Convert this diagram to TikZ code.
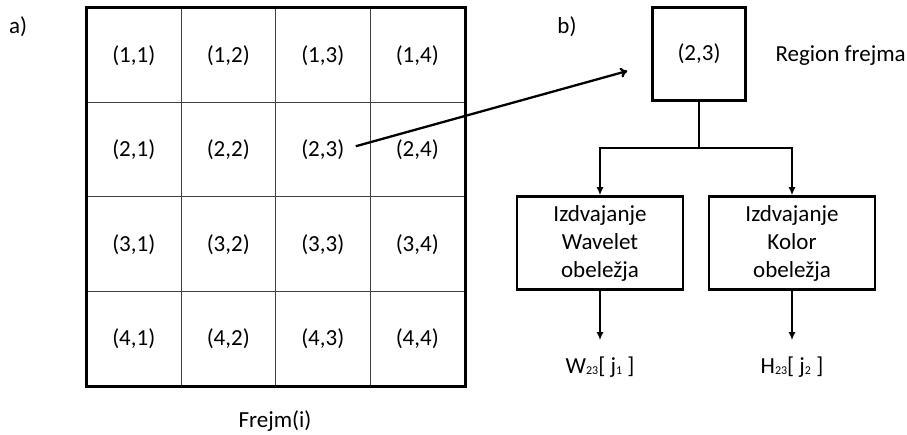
\documentclass[tikz,border=0pt]{standalone}
\usepackage{fontspec}
\setmainfont{Carlito}
\usetikzlibrary{positioning,arrows.meta}
\newcommand{\smallidx}[1]{\raisebox{-1pt}{\fontsize{12}{12}\selectfont #1}}

\begin{document}
\begin{tikzpicture}[x=1pt, y=-1pt,
every node/.style={font=\fontsize{23}{28}\selectfont},
cellnode/.style={rectangle, draw=black!75, line width=1pt, minimum size=94.5pt, inner sep=0pt},
regnode/.style={rectangle, draw=black, line width=2.5pt, minimum size=93pt},
boxnode/.style={rectangle, draw=black, line width=2.5pt, minimum width=166pt, minimum height=93pt, align=center},
downarrow/.style={-{Latex[length=8pt,width=7pt]}, line width=2.5pt},
]
\useasboundingbox (0,0) rectangle (907,435);
%Grid
\foreach \r in {1,...,4}
  \foreach \c in {1,...,4}
    \node[cellnode] (c-\r-\c) at ({86.5+94.5*(\c-0.5)}, {8+94.5*(\r-0.5)}) {(\r,\c)};
\draw[line width=3pt] (c-1-1.north west) rectangle (c-4-4.south east);

%Nodes
\node                (a)       at (18,27)   {a)};
\node                (b)       at (567,27)  {b)};
\node                (frejm)   at (275,421) {Frejm(i)};
\node[regnode]       (reg)     at (699,54)  {(2,3)};
\node[anchor=west]   (regname) at (772,56)  {Region frejma};
\node[boxnode]       (wav)     at (600,243) {Izdvajanje\\Wavelet\\obeležja};
\node[boxnode]       (kol)     at (792,243) {Izdvajanje\\Kolor\\obeležja};
\node                (wout)    at (600,367) {W\smallidx{23}[ j\smallidx{1} ]};
\node                (hout)    at (792,367) {H\smallidx{23}[ j\smallidx{2} ]};
\coordinate          (split)   at (699,148);

%Lines
\draw[-{To[length=7pt,width=10pt]}, line width=2.3pt] ([xshift=33pt,yshift=3.5pt]c-2-3.center) -- ([xshift=-24pt,yshift=-17pt]reg.west);
\draw[line width=2.5pt] (reg.south) -- (split);
\draw[downarrow] (split) -| (wav.north);
\draw[downarrow] (split) -| (kol.north);
\draw[downarrow, shorten >=13pt] (wav.south) -- (wout.north);
\draw[downarrow, shorten >=13pt] (kol.south) -- (hout.north);
\end{tikzpicture}
\end{document}
